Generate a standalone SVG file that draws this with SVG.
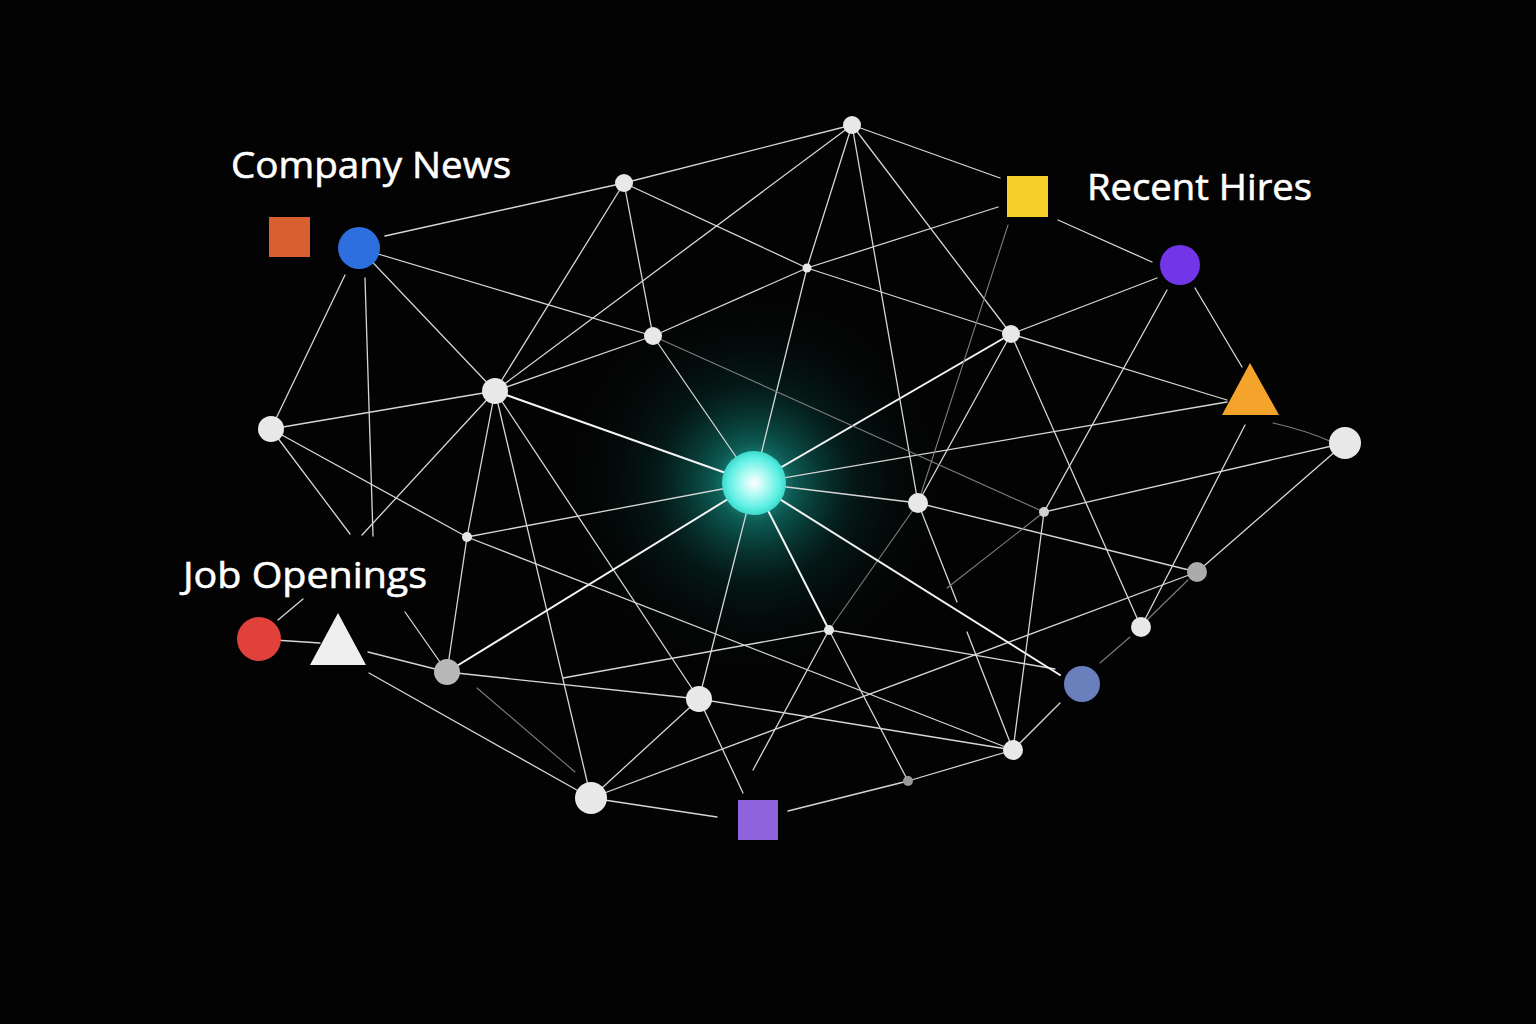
<svg xmlns="http://www.w3.org/2000/svg" width="1536" height="1024" viewBox="0 0 1536 1024">
<defs>
<style>
.e{stroke:#d6d6d6;stroke-width:1.3;fill:none;stroke-linecap:round}
.d{stroke:#7c7c7c;stroke-width:1.1;fill:none;stroke-linecap:round}
.b{stroke:#f4f4f4;stroke-width:2;fill:none;stroke-linecap:round}
.wn{fill:#e8e8e8}
.lbl{font-family:"Open Sans","Noto Sans","DejaVu Sans",sans-serif;font-size:37px;fill:#ffffff;stroke:#ffffff;stroke-width:0.6}
</style>
<radialGradient id="glow" cx="754" cy="483" r="200" gradientUnits="userSpaceOnUse">
<stop offset="0" stop-color="#3de8d8" stop-opacity="0.9"/>
<stop offset="0.2" stop-color="#14a093" stop-opacity="0.55"/>
<stop offset="0.5" stop-color="#08574f" stop-opacity="0.25"/>
<stop offset="1" stop-color="#000" stop-opacity="0"/>
</radialGradient>
<radialGradient id="core" cx="0.5" cy="0.5" r="0.5">
<stop offset="0" stop-color="#ffffff"/>
<stop offset="0.35" stop-color="#b8fbf5"/>
<stop offset="0.8" stop-color="#5cefe3"/>
<stop offset="1" stop-color="#3fd9cc"/>
</radialGradient>
</defs>
<rect width="1536" height="1024" fill="#030303"/>
<circle cx="754" cy="483" r="200" fill="url(#glow)"/>
<g id="connectors">
<line class="e" x1="385" y1="236" x2="624" y2="183"/>
<line class="e" x1="378" y1="254" x2="653" y2="336"/>
<line class="e" x1="359" y1="248" x2="495" y2="391"/>
<line class="e" x1="345" y1="275" x2="271" y2="429"/>
<line class="e" x1="365" y1="278" x2="373" y2="536"/>
<line class="e" x1="271" y1="429" x2="495" y2="391"/>
<line class="e" x1="271" y1="429" x2="350" y2="534"/>
<line class="e" x1="495" y1="391" x2="362" y2="535"/>
<line class="e" x1="271" y1="429" x2="467" y2="537"/>
<line class="e" x1="495" y1="391" x2="467" y2="537"/>
<line class="e" x1="467" y1="537" x2="447" y2="672"/>
<line class="e" x1="467" y1="537" x2="754" y2="483"/>
<line class="e" x1="467" y1="537" x2="1013" y2="750"/>
<line class="e" x1="495" y1="391" x2="591" y2="798"/>
<line class="e" x1="495" y1="391" x2="699" y2="699"/>
<line class="b" x1="495" y1="391" x2="754" y2="483"/>
<line class="e" x1="495" y1="391" x2="624" y2="183"/>
<line class="e" x1="495" y1="391" x2="852" y2="125"/>
<line class="e" x1="495" y1="391" x2="653" y2="336"/>
<line class="b" x1="447" y1="672" x2="754" y2="483"/>
<line class="e" x1="447" y1="672" x2="368" y2="652"/>
<line class="e" x1="447" y1="672" x2="405" y2="612"/>
<line class="e" x1="447" y1="672" x2="699" y2="699"/>
<line class="d" x1="477" y1="688" x2="575" y2="772"/>
<line class="e" x1="369" y1="673" x2="591" y2="798"/>
<line class="e" x1="259" y1="639" x2="320" y2="643"/>
<line class="e" x1="278" y1="620" x2="303" y2="599"/>
<line class="e" x1="563" y1="678" x2="829" y2="630"/>
<line class="e" x1="591" y1="798" x2="699" y2="699"/>
<line class="e" x1="591" y1="798" x2="1197" y2="572"/>
<line class="e" x1="591" y1="798" x2="717" y2="817"/>
<line class="e" x1="699" y1="699" x2="743" y2="793"/>
<line class="e" x1="699" y1="699" x2="754" y2="483"/>
<line class="e" x1="699" y1="699" x2="1013" y2="750"/>
<line class="e" x1="788" y1="811" x2="908" y2="781"/>
<line class="e" x1="908" y1="781" x2="1013" y2="750"/>
<line class="e" x1="829" y1="630" x2="908" y2="781"/>
<line class="b" x1="829" y1="630" x2="754" y2="483"/>
<line class="e" x1="829" y1="630" x2="753" y2="770"/>
<line class="e" x1="829" y1="630" x2="1055" y2="669"/>
<line class="d" x1="829" y1="630" x2="918" y2="503"/>
<line class="b" x1="754" y1="483" x2="1060" y2="675"/>
<line class="e" x1="754" y1="483" x2="918" y2="503"/>
<line class="e" x1="754" y1="483" x2="1227" y2="402"/>
<line class="b" x1="754" y1="483" x2="1011" y2="334"/>
<line class="e" x1="754" y1="483" x2="807" y2="268"/>
<line class="e" x1="653" y1="336" x2="754" y2="483"/>
<line class="e" x1="624" y1="183" x2="852" y2="125"/>
<line class="e" x1="852" y1="125" x2="1000" y2="178"/>
<line class="e" x1="852" y1="125" x2="807" y2="268"/>
<line class="e" x1="852" y1="125" x2="918" y2="503"/>
<line class="e" x1="852" y1="125" x2="1011" y2="334"/>
<line class="e" x1="624" y1="183" x2="807" y2="268"/>
<line class="e" x1="807" y1="268" x2="1011" y2="334"/>
<line class="e" x1="807" y1="268" x2="998" y2="207"/>
<line class="e" x1="807" y1="268" x2="653" y2="336"/>
<line class="e" x1="624" y1="183" x2="653" y2="336"/>
<line class="d" x1="1008" y1="225" x2="918" y2="503"/>
<line class="e" x1="1058" y1="220" x2="1152" y2="262"/>
<line class="e" x1="1157" y1="278" x2="1011" y2="334"/>
<line class="e" x1="1167" y1="290" x2="1044" y2="512"/>
<line class="e" x1="1044" y1="512" x2="1013" y2="750"/>
<line class="e" x1="1195" y1="288" x2="1242" y2="367"/>
<line class="e" x1="1011" y1="334" x2="1227" y2="400"/>
<line class="e" x1="1011" y1="334" x2="918" y2="503"/>
<line class="e" x1="1011" y1="334" x2="1141" y2="627"/>
<path class="d" d="M1273,423 Q1305,430 1332,442"/>
<line class="e" x1="1245" y1="425" x2="1141" y2="627"/>
<line class="e" x1="1345" y1="443" x2="1044" y2="512"/>
<line class="e" x1="1345" y1="443" x2="1197" y2="572"/>
<line class="d" x1="1188" y1="580" x2="1147" y2="620"/>
<line class="d" x1="1130" y1="637" x2="1100" y2="663"/>
<line class="e" x1="1060" y1="703" x2="1013" y2="750"/>
<line class="e" x1="918" y1="503" x2="1197" y2="572"/>
<line class="d" x1="653" y1="336" x2="1044" y2="512"/>
<line class="e" x1="918" y1="503" x2="957" y2="602"/>
<line class="d" x1="1044" y1="512" x2="947" y2="588"/>
<line class="e" x1="967" y1="632" x2="1013" y2="750"/>
</g>
<g id="nodes">
<g id="n-top"><circle class="wn" cx="852" cy="125" r="9"/></g>
<g id="n-b"><circle class="wn" cx="624" cy="183" r="9"/></g>
<g id="n-c"><circle class="wn" cx="807" cy="268" r="4.5"/></g>
<g id="n-d"><circle class="wn" cx="653" cy="336" r="9"/></g>
<g id="n-e"><circle class="wn" cx="495" cy="391" r="13"/></g>
<g id="n-f"><circle class="wn" cx="271" cy="429" r="13"/></g>
<g id="n-i"><circle class="wn" cx="1011" cy="334" r="9"/></g>
<g id="n-j"><circle class="wn" cx="1345" cy="443" r="16"/></g>
<g id="n-k"><circle class="wn" cx="918" cy="503" r="10"/></g>
<g id="n-l"><circle fill="#cfcfcf" cx="1044" cy="512" r="5"/></g>
<g id="n-m"><circle class="wn" cx="467" cy="537" r="5"/></g>
<g id="n-n"><circle fill="#ababab" cx="1197" cy="572" r="10"/></g>
<g id="n-o"><circle class="wn" cx="1141" cy="627" r="10"/></g>
<g id="n-p"><circle class="wn" cx="829" cy="630" r="5"/></g>
<g id="n-s"><circle fill="#b8b8b8" cx="447" cy="672" r="13"/></g>
<g id="n-u"><circle class="wn" cx="699" cy="699" r="13"/></g>
<g id="n-v"><circle class="wn" cx="1013" cy="750" r="10"/></g>
<g id="n-w"><circle fill="#9a9a9a" cx="908" cy="781" r="5"/></g>
<g id="n-x"><circle class="wn" cx="591" cy="798" r="16"/></g>
<g id="n-t"><circle fill="#6a80bd" cx="1082" cy="684" r="18"/></g>
<g id="company-news-circle"><circle fill="#2e6fdf" cx="359" cy="248" r="21"/></g>
<g id="company-news-square"><rect fill="#d85f2f" x="269" y="217" width="41" height="40"/></g>
<g id="recent-hires-square"><rect fill="#f7cd2a" x="1007" y="176" width="41" height="41"/></g>
<g id="recent-hires-circle"><circle fill="#7236e8" cx="1180" cy="265" r="20"/></g>
<g id="recent-hires-triangle"><polygon fill="#f5a42b" points="1250,363 1279,415 1222,415"/></g>
<g id="job-openings-circle"><circle fill="#e0413a" cx="259" cy="639" r="22"/></g>
<g id="job-openings-triangle"><polygon fill="#efefef" points="338,613 366,665 310,665"/></g>
<g id="purple-square"><rect fill="#8f63dc" x="738" y="800" width="40" height="40"/></g>
<g id="hub"><circle fill="url(#core)" cx="754" cy="483" r="32"/></g>
<g id="labels">
<text class="lbl" x="231" y="178" textLength="280" lengthAdjust="spacingAndGlyphs">Company News</text>
<text class="lbl" x="1087" y="200" textLength="225" lengthAdjust="spacingAndGlyphs">Recent Hires</text>
<text class="lbl" x="183" y="588" textLength="244" lengthAdjust="spacingAndGlyphs">Job Openings</text>
</g>
</g>
</svg>
